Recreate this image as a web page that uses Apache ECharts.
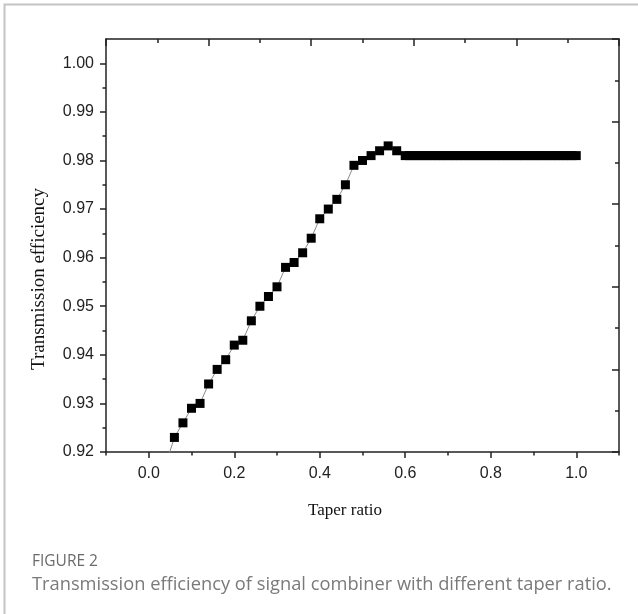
<!DOCTYPE html>
<html>
<head>
<meta charset="utf-8">
<script src="https://cdn.jsdelivr.net/npm/echarts@6/dist/echarts.min.js"></script>
<style>
  html, body { margin: 0; padding: 0; background: #fff; }
  #chart { width: 638px; height: 614px; }
</style>
</head>
<body>
<div id="chart"></div>
<script>
// Taper ratio (x) and transmission efficiency (y) of the signal combiner
const taperRatio = [
  0.04, 0.06, 0.08, 0.10, 0.12, 0.14, 0.16, 0.18, 0.20, 0.22, 0.24, 0.26, 0.28,
  0.30, 0.32, 0.34, 0.36, 0.38, 0.40, 0.42, 0.44, 0.46, 0.48, 0.50, 0.52, 0.54,
  0.56, 0.58,
  0.60, 0.61, 0.62, 0.63, 0.64, 0.65, 0.66, 0.67, 0.68, 0.69, 0.70, 0.71, 0.72,
  0.73, 0.74, 0.75, 0.76, 0.77, 0.78, 0.79, 0.80, 0.81, 0.82, 0.83, 0.84, 0.85,
  0.86, 0.87, 0.88, 0.89, 0.90, 0.91, 0.92, 0.93, 0.94, 0.95, 0.96, 0.97, 0.98,
  0.99, 1.00
];
const efficiency = [
  0.9175, 0.923, 0.926, 0.929, 0.930, 0.934, 0.937, 0.939, 0.942, 0.943, 0.947,
  0.950, 0.952, 0.954, 0.958, 0.959, 0.961, 0.964, 0.968, 0.970, 0.972, 0.975,
  0.979, 0.980, 0.981, 0.982, 0.983, 0.982,
  0.981, 0.981, 0.981, 0.981, 0.981, 0.981, 0.981, 0.981, 0.981, 0.981, 0.981,
  0.981, 0.981, 0.981, 0.981, 0.981, 0.981, 0.981, 0.981, 0.981, 0.981, 0.981,
  0.981, 0.981, 0.981, 0.981, 0.981, 0.981, 0.981, 0.981, 0.981, 0.981, 0.981,
  0.981, 0.981, 0.981, 0.981, 0.981, 0.981, 0.981, 0.981
];

// Tick positions
const xMajorTicks = [0.0, 0.2, 0.4, 0.6, 0.8, 1.0];
const xMinorTicks = [-0.1, 0.1, 0.3, 0.5, 0.7, 0.9, 1.1];
const yMajorTicks = [0.92, 0.93, 0.94, 0.95, 0.96, 0.97, 0.98, 0.99, 1.00];
const yMinorTicks = [0.925, 0.935, 0.945, 0.955, 0.965, 0.975, 0.985, 0.995];

const xTitle = 'Taper ratio';
const yTitle = 'Transmission efficiency';
const figureLabel = 'FIGURE 2';
const figureCaption = 'Transmission efficiency of signal combiner with different taper ratio.';

const AXIS_COLOR = '#222';
const TICK_FONT = 'Liberation Sans, Arial, sans-serif';
const TITLE_FONT = '"Liberation Serif", "Times New Roman", serif';
const CAPTION_FONT = '"Open Sans", sans-serif';

const points = taperRatio.map((x, i) => [x, efficiency[i]]);

const chart = echarts.init(document.getElementById('chart'), null, { renderer: 'canvas' });

const lineStyle = { color: AXIS_COLOR, width: 1.5 };

chart.setOption({
  animation: false,
  backgroundColor: '#fff',
  grid: { left: 106, top: 39, width: 513, height: 413, containLabel: false },
  xAxis: [
    {
      type: 'value', position: 'bottom', min: -0.1, max: 1.1,
      axisLine: { show: true, onZero: false, lineStyle },
      axisTick: { show: true, inside: false, length: 6, lineStyle, customValues: xMajorTicks },
      axisLabel: {
        show: true, margin: 14, color: AXIS_COLOR, fontSize: 16, fontFamily: TICK_FONT,
        customValues: xMajorTicks, formatter: v => v.toFixed(1)
      },
      splitLine: { show: false }
    },
    {
      // minor ticks on the bottom axis
      type: 'value', position: 'bottom', min: -0.1, max: 1.1,
      axisLine: { show: false, onZero: false },
      axisTick: { show: true, inside: false, length: 3.5, lineStyle, customValues: xMinorTicks },
      axisLabel: { show: false },
      splitLine: { show: false }
    },
    {
      // top frame axis
      type: 'value', position: 'top', min: 0, max: 10, interval: 2,
      axisLine: { show: true, onZero: false, lineStyle },
      axisTick: { show: true, inside: true, length: 7, lineStyle },
      minorTick: { show: true, splitNumber: 2, length: 4, lineStyle },
      axisLabel: { show: false },
      splitLine: { show: false }
    }
  ],
  yAxis: [
    {
      type: 'value', position: 'left', min: 0.92, max: 1.005,
      axisLine: { show: true, onZero: false, lineStyle },
      axisTick: { show: true, inside: false, length: 6, lineStyle, customValues: yMajorTicks },
      axisLabel: {
        show: true, margin: 12, color: AXIS_COLOR, fontSize: 16, fontFamily: TICK_FONT,
        customValues: yMajorTicks, formatter: v => v.toFixed(2)
      },
      splitLine: { show: false }
    },
    {
      // minor ticks on the left axis
      type: 'value', position: 'left', min: 0.92, max: 1.005,
      axisLine: { show: false, onZero: false },
      axisTick: { show: true, inside: false, length: 3.5, lineStyle, customValues: yMinorTicks },
      axisLabel: { show: false },
      splitLine: { show: false }
    },
    {
      // right frame axis
      type: 'value', position: 'right', min: 0, max: 10, interval: 2, inverse: true,
      axisLine: { show: true, onZero: false, lineStyle },
      axisTick: { show: true, inside: true, length: 7, lineStyle },
      minorTick: { show: true, splitNumber: 2, length: 4, lineStyle },
      axisLabel: { show: false },
      splitLine: { show: false }
    }
  ],
  series: [
    {
      type: 'line',
      xAxisIndex: 0,
      yAxisIndex: 0,
      data: points,
      clip: true,
      symbol: 'rect',
      symbolSize: 9,
      showAllSymbol: true,
      itemStyle: { color: '#000', borderWidth: 0 },
      lineStyle: { color: '#8a8a8a', width: 1 }
    }
  ],
  graphic: [
    {
      // page frame (top and left edges)
      type: 'polyline', silent: true,
      shape: { points: [[4.5, 614], [4.5, 4.5], [638, 4.5]] },
      style: { stroke: '#c4c4c4', lineWidth: 2, fill: null }
    },
    {
      // x axis title
      type: 'text', silent: true, x: 345, y: 511,
      style: {
        text: xTitle, fill: '#111', font: '17px ' + TITLE_FONT,
        align: 'center', verticalAlign: 'middle'
      }
    },
    {
      // y axis title, reading bottom to top
      type: 'text', silent: true, x: 39, y: 279, rotation: Math.PI / 2,
      style: {
        text: yTitle, fill: '#111', font: '19px ' + TITLE_FONT,
        align: 'center', verticalAlign: 'middle'
      }
    },
    {
      type: 'text', silent: true, x: 32, y: 562,
      style: { text: figureLabel, fill: '#6b6b6b', font: '15.5px ' + CAPTION_FONT, verticalAlign: 'middle' }
    },
    {
      type: 'text', silent: true, x: 32, y: 585,
      style: { text: figureCaption, fill: '#7a7a7a', font: '18.3px ' + CAPTION_FONT, verticalAlign: 'middle' }
    }
  ]
});
</script>
</body>
</html>
